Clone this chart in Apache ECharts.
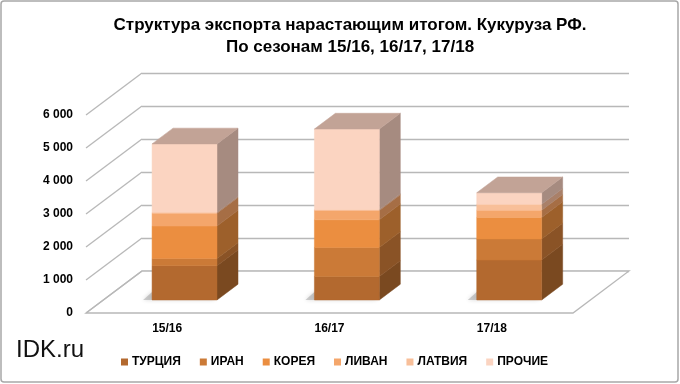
<!DOCTYPE html>
<html><head><meta charset="utf-8">
<script src="https://cdn.jsdelivr.net/npm/echarts@6/dist/echarts.min.js"></script>
<style>html,body{margin:0;padding:0;background:#fff}#c{width:680px;height:384px}</style>
</head><body><div id="c"></div>
<script>
const categories = ['15/16', '16/17', '17/18'];
const countries = ['ТУРЦИЯ', 'ИРАН', 'КОРЕЯ', 'ЛИВАН', 'ЛАТВИЯ', 'ПРОЧИЕ'];
const turkey  = [1040, 710, 1210];
const iran    = [220, 880, 640];
const korea   = [980, 840, 650];
const lebanon = [390, 280, 220];
const latvia  = [30, 30, 180];
const others  = [2070, 2440, 350];
const yTicks = [0, 1000, 2000, 3000, 4000, 5000, 6000];
const titleLines = ['Структура экспорта нарастающим итогом. Кукуруза РФ.', 'По сезонам 15/16, 16/17, 17/18'];

const values = [turkey, iran, korea, lebanon, latvia, others];
const frontColors = ['#b3692f', '#cb7a37', '#eb8e40', '#f4a66b', '#f8bf99', '#fbd4c1'];
const sideColors  = ['#7a4920', '#8a5326', '#9d602b', '#a66e45', '#a98069', '#a68b80'];
const topColor = '#c2a396';

// depth of floor (back wall -> front edge), in px
const DX = -56, DY = 42;
const FRONT = 0.69, BACK = 0.315;
const BAR_FRAC = 0.4;

const fmt = v => String(v).replace(/\B(?=(\d{3})+(?!\d))/g, ' ');

const bases = values.map((arr, s) => arr.map((v, i) => {
  let b = 0; for (let k = 0; k < s; k++) b += values[k][i]; return b;
}));
const topIdx = categories.map((c, i) => {
  let t = 0; values.forEach((arr, s) => { if (arr[i] > 0) t = s; }); return t;
});

const series = [];
series.push({
  type: 'custom', xAxisIndex: 0, yAxisIndex: 0, silent: true, z: 1,
  data: yTicks.map(v => [0, v]),
  renderItem: (params, api) => {
    const cs = params.coordSys;
    const y = api.coord([0, api.value(1)])[1];
    const children = [];
    if (params.dataIndex === 0) {
      children.push({
        type: 'polygon',
        shape: { points: [[cs.x, y], [cs.x + cs.width, y], [cs.x + cs.width + DX, y + DY], [cs.x + DX, y + DY]] },
        style: { fill: '#ffffff', stroke: '#b8b8b8', lineWidth: 1.3 }
      });
    }
    children.push({
      type: 'line',
      shape: { x1: cs.x, y1: y, x2: cs.x + DX, y2: y + DY },
      style: { stroke: '#b8b8b8', lineWidth: 1.3 }
    });
    return { type: 'group', children };
  }
});
series.push({
  type: 'custom', xAxisIndex: 0, yAxisIndex: 0, silent: true, z: 2,
  data: categories.map((c, i) => [i]),
  renderItem: (params, api) => {
    const i = api.value(0);
    const p = api.coord([i, 0]);
    const w = api.size([1, 0])[0] * BAR_FRAC;
    const fx = p[0] + DX * FRONT, fy = p[1] + DY * FRONT;
    return {
      type: 'polygon',
      shape: { points: [[fx - w / 2 - 9, fy], [fx + w / 2 - 4, fy], [fx + w / 2 + 6, fy - 8], [fx - w / 2, fy - 8]] },
      style: { fill: 'rgba(150,150,150,0.45)', shadowBlur: 4, shadowColor: 'rgba(0,0,0,0.35)' }
    };
  }
});
countries.forEach((name, s) => {
  series.push({
    name, type: 'custom', xAxisIndex: 0, yAxisIndex: 0, z: 3,
    itemStyle: { color: frontColors[s] },
    data: categories.map((c, i) => [i, bases[s][i], values[s][i]]),
    renderItem: (params, api) => {
      const i = api.value(0), b = api.value(1), v = api.value(2);
      if (!(v > 0)) return null;
      const p0 = api.coord([i, b]);
      const p1 = api.coord([i, b + v]);
      const w = api.size([1, 0])[0] * BAR_FRAC;
      const cx = p0[0];
      const Lf = cx + DX * FRONT - w / 2, Rf = Lf + w;
      const Lb = cx + DX * BACK - w / 2, Rb = Lb + w;
      const botF = p0[1] + DY * FRONT, topF = p1[1] + DY * FRONT;
      const botB = p0[1] + DY * BACK, topB = p1[1] + DY * BACK;
      const children = [
        { type: 'polygon', shape: { points: [[Rf, topF], [Rb, topB], [Rb, botB], [Rf, botF]] },
          style: { fill: sideColors[s], stroke: sideColors[s], lineWidth: 0.5 } },
        { type: 'rect', shape: { x: Lf, y: topF, width: w, height: botF - topF },
          style: { fill: frontColors[s], stroke: frontColors[s], lineWidth: 0.5 } }
      ];
      if (topIdx[i] === s) {
        children.push({ type: 'polygon', shape: { points: [[Lf, topF], [Rf, topF], [Rb, topB], [Lb, topB]] },
          style: { fill: topColor, stroke: topColor, lineWidth: 0.5 } });
      }
      return { type: 'group', children };
    }
  });
});

const FONT = 'Liberation Sans Narrow, Arial Narrow, Liberation Sans, Arial, sans-serif';
const chart = echarts.init(document.getElementById('c'));
chart.setOption({
  animation: false,
  backgroundColor: '#ffffff',
  title: {
    text: titleLines.join('\n'), left: 345, textAlign: 'center', top: 9,
    textStyle: { fontFamily: FONT, fontSize: 17, fontWeight: 'bold', color: '#000', lineHeight: 22 }
  },
  legend: {
    data: countries, left: 116, top: 351, icon: 'rect', itemWidth: 7, itemHeight: 7, itemGap: 19,
    textStyle: { fontFamily: FONT, fontSize: 12, fontWeight: 'bold', color: '#000', padding: [0, 0, 0, -1] }
  },
  graphic: [
    { type: 'rect', shape: { x: 1, y: 1, width: 677, height: 381, r: 3 }, style: { fill: 'none', stroke: '#a8a8a8', lineWidth: 1.5 }, z: 0 },
    { type: 'text', left: 16, top: 338, style: { text: 'IDK.ru', font: '24px Liberation Sans, Arial, sans-serif', fill: '#111' } }
  ],
  grid: [
    { left: 142, right: 51, top: 73, bottom: 113 },
    { left: 86, right: 107, top: 115, bottom: 71 }
  ],
  xAxis: [
    { type: 'category', data: categories, gridIndex: 0, show: false },
    { type: 'category', data: categories, gridIndex: 1, axisLine: { show: false }, axisTick: { show: false },
      axisLabel: { margin: 10, color: '#000', fontWeight: 'bold', fontSize: 12, fontFamily: FONT } }
  ],
  yAxis: [
    { type: 'value', gridIndex: 0, min: 0, max: 6000, interval: 1000, axisLabel: { show: false },
      axisLine: { show: false }, axisTick: { show: false },
      splitLine: { lineStyle: { color: '#b8b8b8', width: 1.3 } } },
    { type: 'value', gridIndex: 1, min: 0, max: 6000, interval: 1000, splitLine: { show: false },
      axisLine: { show: false }, axisTick: { show: false },
      axisLabel: { margin: 13, color: '#000', fontWeight: 'bold', fontSize: 12, formatter: v => fmt(v), fontFamily: 'Liberation Sans, Arial, sans-serif' } }
  ],
  series
});
</script></body></html>
